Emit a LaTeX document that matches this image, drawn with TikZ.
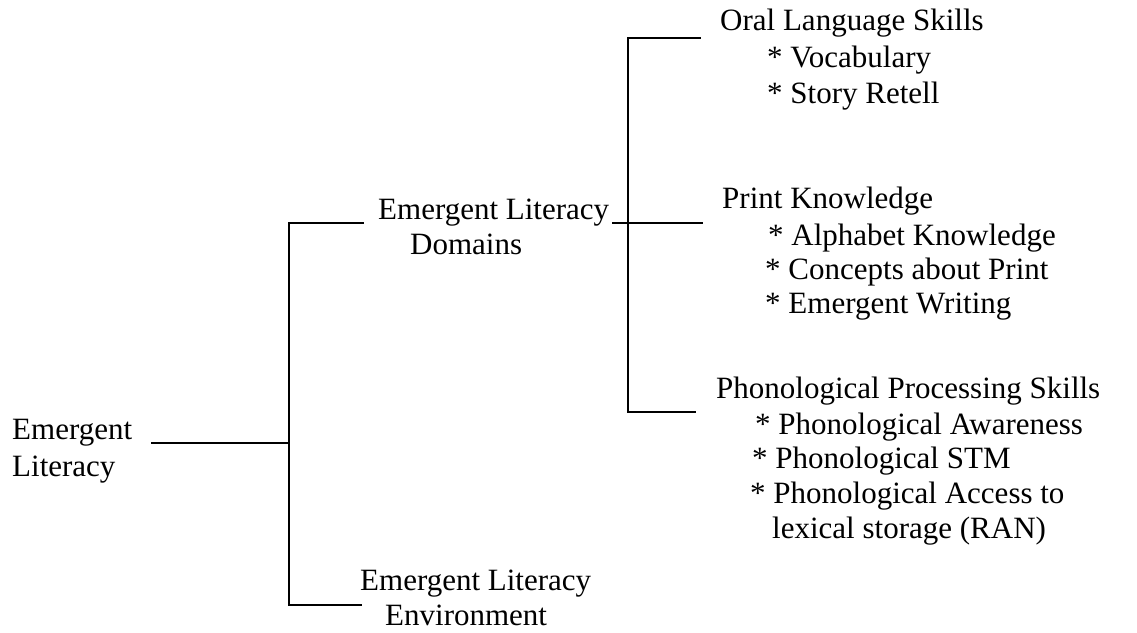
\documentclass[tikz,border=0pt]{standalone}
\usepackage{fontspec}
\setmainfont{Liberation Serif}

\begin{document}
\begin{tikzpicture}[x=1pt, y=-1pt,
    txt/.style={anchor=base west, inner sep=0pt, font=\fontsize{31}{36}\selectfont},
    branch/.style={line width=1.6pt, line cap=rect}]
  \useasboundingbox (0,0) rectangle (1137,632);

  % left part
  \node[txt] (root1) at (12,439) {Emergent};
  \node[txt] (root2) at (12,476) {Literacy};
  \node[txt] (dom1) at (378,219) {Emergent Literacy};
  \node[txt] (dom2) at (410,254) {Domains};
  \node[txt] (env1) at (360,590) {Emergent Literacy};
  \node[txt] (env2) at (385,625) {Environment};

  % right part
  \node[txt] (oral) at (720,30) {Oral Language Skills};
  \node[txt] (oral1) at (767,67) {* Vocabulary};
  \node[txt] (oral2) at (767,103) {* Story Retell};
  \node[txt] (print) at (722,208) {Print Knowledge};
  \node[txt] (print1) at (768,245) {* Alphabet Knowledge};
  \node[txt] (print2) at (765,279) {* Concepts about Print};
  \node[txt] (print3) at (765,313) {* Emergent Writing};
  \node[txt] (phon) at (716,398) {Phonological Processing Skills};
  \node[txt] (phon1) at (755,434) {* Phonological Awareness};
  \node[txt] (phon2) at (752,468) {* Phonological STM};
  \node[txt] (phon3) at (750,503) {* Phonological Access to};
  \node[txt] (phon4) at (772,538) {lexical storage (RAN)};

  % branch points
  \coordinate (rootend) at (152,443);
  \coordinate (rootfork) at (289,443);
  \coordinate (domend) at (363,223);
  \coordinate (envend) at (361,605);
  \coordinate (domout) at (613,223);
  \coordinate (domfork) at (628,223);
  \coordinate (oralend) at (700,38);
  \coordinate (printend) at (702,223);
  \coordinate (phonend) at (695,412);

  \draw[branch] (rootend) -- (rootfork);
  \draw[branch] (domend) -| (rootfork) |- (envend);
  \draw[branch] (domout) -- (printend);
  \draw[branch] (oralend) -| (domfork) |- (phonend);
\end{tikzpicture}
\end{document}
